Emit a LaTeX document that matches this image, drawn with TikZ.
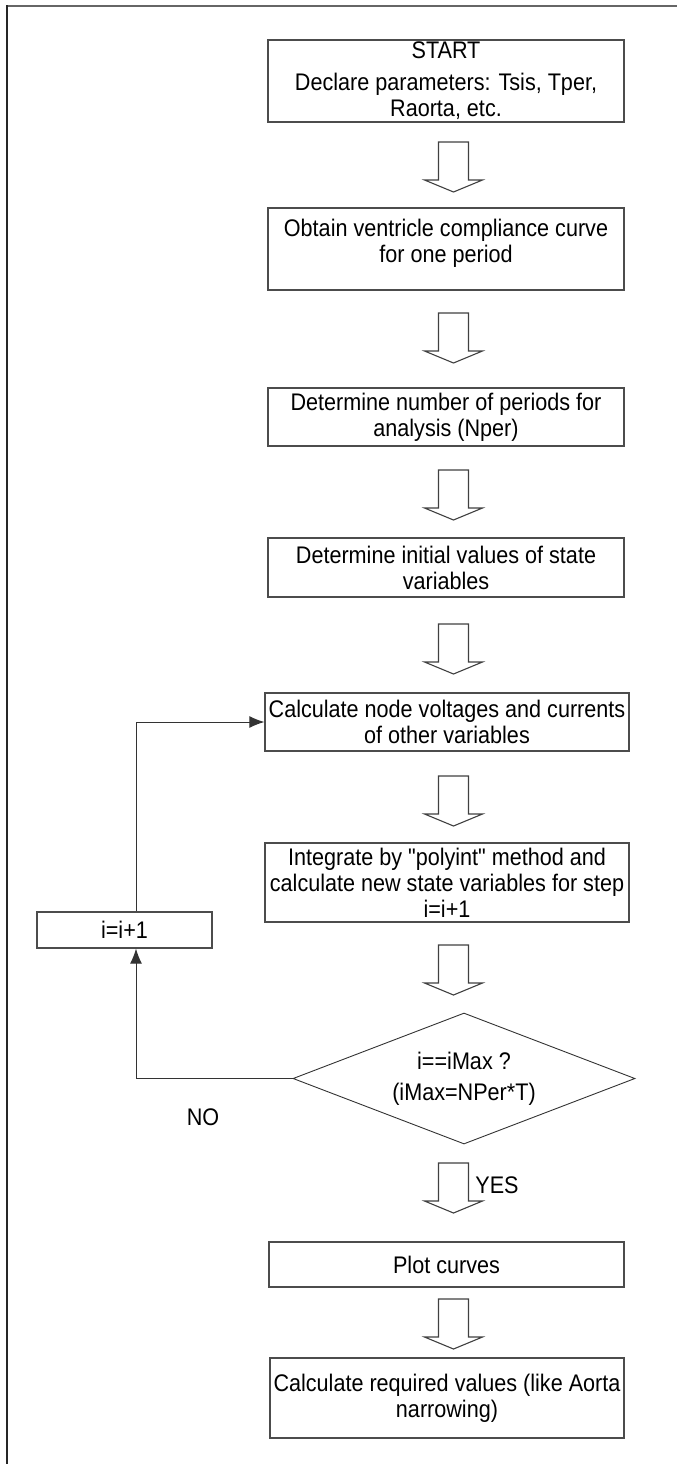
\documentclass[tikz,border=0pt]{standalone}
\usepackage{fontspec}
\setmainfont{Liberation Sans}[FakeStretch=0.9]
\newfontfamily\plainquote{Liberation Sans}[FakeStretch=0.9]
\usetikzlibrary{shapes.geometric,arrows.meta}
\tikzset{
	stepbox/.style={draw=black!70, line width=1.2pt, align=center, inner sep=0pt, minimum width=356pt},
	decision/.style={diamond, aspect=2.6, draw=black!80, line width=0.9pt, align=center, inner sep=0pt, minimum width=342pt, minimum height=131pt},
	hollow/.style={draw=black!75, line width=1.1pt, fill=white},
	flow/.style={draw=black!80, line width=1pt, -{Latex[length=15pt,width=12pt]}}
}
\newcommand{\hollowdown}[1]{\draw[hollow] (#1) -- ++(-29,-12) -- ++(14,0) -- ++(0,-38) -- ++(30,0) -- ++(0,38) -- ++(14,0) -- cycle;}
\newcommand{\dq}{{\plainquote\symbol{34}}}

\begin{document}
\begin{tikzpicture}[x=1pt, y=-1pt, font=\fontsize{24pt}{26pt}\selectfont]
		\useasboundingbox (0,0) rectangle (677,1464);

		%% frame
		\draw[black!60, line width=1.6pt] (677,6) -- (7,6);
		\draw[black!85, line width=1.6pt] (7,5.2) -- (7,1464);

		%% main column
		\node[stepbox, minimum height=82pt] at (446,81)(start){START\\[6pt]Declare parameters: Tsis, Tper,\\Raorta, etc.};
		\node[stepbox, minimum height=82pt] at (446,249)(compl){Obtain ventricle compliance curve\\for one period\\[-10pt]};
		\node[stepbox, minimum height=58pt] at (446,417)(nper){Determine number of periods for\\analysis (Nper)};
		\node[stepbox, minimum height=59pt] at (446,567.5)(init){Determine initial values of state\\variables};
		\node[stepbox, minimum width=364pt, minimum height=58pt] at (447,722)(calc){Calculate node voltages and currents\\of other variables};
		\node[stepbox, minimum width=364pt, minimum height=79pt] at (447,882.5)(integ){Integrate by \dq polyint\dq{} method and\\calculate new state variables for step\\i=i+1};
		\node[decision] at (464,1078.5)(test){i==iMax ?\\[5pt](iMax=NPer*T)};
		\node[stepbox, minimum width=355pt, minimum height=45pt] at (446.5,1264.5)(plot){Plot curves};
		\node[stepbox, minimum width=354pt, minimum height=80pt] at (447,1398)(req){Calculate required values (like Aorta\\narrowing)};

		%% loop back
		\node[stepbox, minimum width=175pt, minimum height=36pt] at (124.5,930)(incr){i=i+1};

		\node at (203,1117)(no){NO};
		\node at (497,1185)(yes){YES};

		% hollow arrows between the steps
		\foreach \t in {192,363,520,674,826,995,1213,1349}
			\hollowdown{453.5,\t};

		\coordinate (loopx) at (136,0);
		\draw[flow] (test.west) -- (test.west -| loopx) -- (incr.south -| loopx);
		\draw[flow] (incr.north -| loopx) |- (calc.west);
\end{tikzpicture}
\end{document}
